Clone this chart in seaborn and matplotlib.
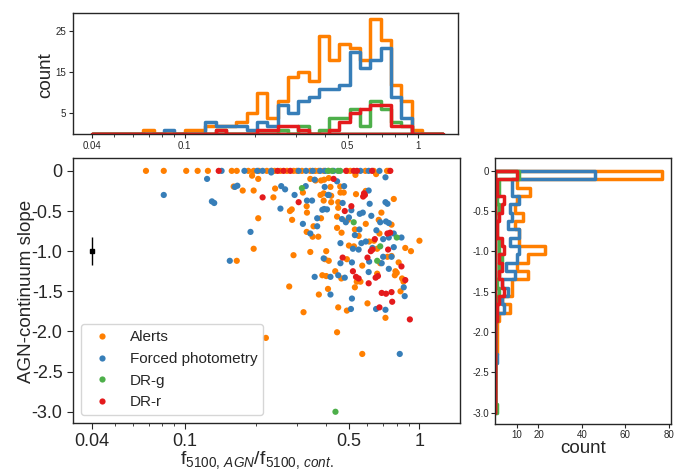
import numpy as np
import pandas as pd
import matplotlib
matplotlib.use("Agg")
import matplotlib.pyplot as plt
import seaborn as sns
from matplotlib.ticker import NullFormatter

# ---------------- data ----------------
series_names = ["Alerts", "Forced photometry", "DR-g", "DR-r"]
series_colors = ["#ff7f00", "#377eb8", "#4daf4a", "#e41a1c"]

# (flux ratio, AGN-continuum slope)
alerts_zero_ratio = [0.068, 0.081, 0.101, 0.113, 0.125, 0.158, 0.166, 0.186, 0.196, 0.206,
                     0.223, 0.234, 0.241, 0.255, 0.272, 0.290, 0.300, 0.315, 0.342, 0.359,
                     0.371, 0.390, 0.410, 0.491, 0.507, 0.588, 0.638, 0.727, 0.739]
alerts_points = [
    (0.193, -0.06), (0.205, -0.10), (0.342, -0.10), (0.360, -0.12), (0.380, -0.12), (0.392, -0.11),
    (0.161, -0.195), (0.176, -0.245), (0.196, -0.245), (0.205, -0.59), (0.242, -0.22), (0.318, -0.27),
    (0.238, -0.33), (0.330, -0.44), (0.331, -0.52), (0.390, -0.28), (0.378, -0.30), (0.390, -0.37),
    (0.280, -0.50), (0.285, -0.48), (0.286, -0.61), (0.380, -0.59), (0.353, -0.69), (0.330, -0.76),
    (0.350, -0.82), (0.370, -0.82),
    (0.533, -0.05), (0.653, -0.04), (0.410, -0.09), (0.459, -0.195), (0.417, -0.20), (0.460, -0.27),
    (0.475, -0.27), (0.420, -0.31), (0.536, -0.29), (0.590, -0.25), (0.777, -0.35), (0.420, -0.39),
    (0.450, -0.39), (0.450, -0.46), (0.445, -0.57), (0.495, -0.61), (0.688, -0.52), (0.670, -0.61),
    (0.760, -0.67), (0.590, -0.66), (0.530, -0.73), (0.445, -0.71), (0.465, -0.77), (0.675, -0.78),
    (0.550, -0.81),
    (0.196, -0.97), (0.166, -1.12), (0.290, -1.05), (0.342, -1.01), (0.400, -1.00), (0.395, -1.10),
    (0.410, -1.12), (0.385, -1.30), (0.400, -1.31), (0.278, -1.44), (0.372, -1.54), (0.407, -1.47),
    (0.320, -1.76),
    (1.000, -0.87), (0.920, -1.00), (0.870, -0.96), (0.500, -0.93), (0.525, -0.94), (0.610, -0.88),
    (0.640, -0.87), (0.660, -0.97), (0.730, -1.07), (0.760, -1.06), (0.680, -1.15), (0.490, -1.10),
    (0.815, -1.14), (0.790, -1.25), (0.800, -1.27), (0.570, -1.18), (0.660, -1.28), (0.785, -1.30),
    (0.843, -1.34), (0.855, -1.38), (0.437, -1.25), (0.464, -1.34), (0.540, -1.38), (0.560, -1.38),
    (0.530, -1.45), (0.600, -1.65), (0.450, -1.70), (0.490, -1.74), (0.716, -1.83), (0.830, -1.50),
    (0.445, -2.01), (0.570, -2.28), (0.221, -2.08),
]

forced_zero_ratio = [0.143, 0.179, 0.203, 0.214, 0.233, 0.305, 0.328, 0.350, 0.377, 0.396,
                     0.430, 0.560, 0.607, 0.675]
forced_points = [
    (0.233, -0.02), (0.357, -0.11), (0.163, -0.20), (0.167, -0.185), (0.257, -0.19), (0.267, -0.23),
    (0.327, -0.19), (0.293, -0.30), (0.331, -0.37), (0.348, -0.37), (0.394, -0.20), (0.407, -0.30),
    (0.385, -0.485), (0.392, -0.475), (0.255, -0.47), (0.318, -0.66), (0.366, -0.59), (0.366, -0.69),
    (0.342, -0.78), (0.190, -0.76),
    (0.716, -0.08), (0.445, -0.13), (0.477, -0.19), (0.410, -0.30), (0.607, -0.245), (0.716, -0.39),
    (0.730, -0.41), (0.613, -0.41), (0.470, -0.40), (0.512, -0.49), (0.403, -0.48), (0.467, -0.60),
    (0.500, -0.58), (0.485, -0.64), (0.556, -0.535), (0.573, -0.52), (0.623, -0.56), (0.720, -0.63),
    (0.740, -0.65), (0.680, -0.64), (0.554, -0.73), (0.655, -0.74), (0.777, -0.78), (0.838, -0.83),
    (0.530, -0.80),
    (0.155, -1.12), (0.390, -1.09), (0.357, -1.32),
    (0.460, -0.90), (0.520, -0.97), (0.550, -0.98), (0.565, -0.90), (0.590, -0.88), (0.700, -0.85),
    (0.740, -0.83), (0.777, -0.95), (0.700, -1.07), (0.630, -0.96), (0.610, -1.13), (0.690, -1.15),
    (0.460, -1.15), (0.515, -1.14), (0.760, -1.07), (0.740, -1.22), (0.607, -1.26), (0.417, -1.32),
    (0.450, -1.30), (0.480, -1.33), (0.417, -1.54), (0.857, -1.45), (0.865, -1.56), (0.515, -1.59),
    (0.510, -1.72), (0.653, -1.72), (0.716, -1.73),
    (0.081, -0.30), (0.124, -0.10), (0.130, -0.38), (0.133, -0.40), (0.824, -2.28),
]

drg_zero_ratio = [0.407, 0.424, 0.449, 0.459]
drg_points = [(0.315, -0.215), (0.524, -0.64), (0.800, -0.83), (0.680, -0.94), (0.660, -1.12),
              (0.438, -3.00)]

drr_zero_ratio = [0.139, 0.248, 0.263, 0.281, 0.486, 0.524, 0.541, 0.628, 0.751]
drr_points = [
    (0.214, -0.33), (0.305, -0.39), (0.430, -0.10), (0.580, -0.28), (0.585, -0.30), (0.575, -0.32),
    (0.512, -0.44), (0.480, -0.50), (0.730, -0.78), (0.750, -0.77), (0.645, -0.85), (0.735, -0.98),
    (0.620, -1.00), (0.630, -0.98), (0.600, -1.08), (0.470, -1.08), (0.838, -1.19), (0.520, -1.25),
    (0.650, -1.33), (0.665, -1.31), (0.870, -1.36), (0.536, -1.32), (0.550, -1.34), (0.607, -1.40),
    (0.690, -1.52), (0.720, -1.53), (0.760, -1.51), (0.765, -1.63), (0.675, -1.70), (0.910, -1.85),
]

# typical uncertainty marker
err_ratio = [0.04]
err_slope = [-1.0]
err_dslope = [0.175]

# top histogram: 34 log-spaced bins from 0.04 to 1.28
ratio_bin_lo, ratio_bin_hi, ratio_nbins = 0.04, 1.28, 34
alerts_ratio_counts = [0, 0, 0, 0, 0, 1, 0, 0, 0, 1, 1, 2, 2, 2, 3, 5, 10, 4, 8, 14, 15, 13,
                       24, 18, 22, 21, 18, 28, 23, 12, 8, 1, 0, 0]
forced_ratio_counts = [0, 0, 0, 0, 0, 0, 0, 1, 0, 0, 0, 3, 2, 2, 2, 1, 3, 2, 7, 5, 8, 9,
                       11, 11, 12, 20, 16, 18, 21, 9, 4, 0, 0, 0]
drg_ratio_counts = [0, 0, 0, 0, 0, 0, 0, 0, 0, 0, 0, 0, 1, 0, 0, 0, 0, 0, 1, 0, 2, 0,
                    1, 4, 4, 6, 2, 8, 6, 3, 2, 0, 0, 0]
drr_ratio_counts = [0, 0, 0, 0, 0, 0, 0, 0, 0, 0, 0, 0, 1, 0, 0, 0, 1, 1, 2, 2, 1, 0,
                    0, 1, 3, 5, 6, 7, 7, 2, 2, 0, 0, 0]

# right histogram: 29 bins from -3.0 to 0, listed from the top bin (0) downwards
slope_bin_lo, slope_bin_hi, slope_nbins = -3.0, 0.0, 29
alerts_slope_counts = [77, 10, 16, 10, 9, 13, 9, 11, 11, 23, 15, 10, 15, 8, 8, 3, 7, 2, 1, 1,
                       1, 1, 0, 0, 0, 0, 0, 0, 0]
forced_slope_counts = [46, 8, 8, 11, 7, 8, 6, 11, 7, 11, 10, 5, 9, 3, 6, 3, 4, 1, 0, 0,
                       0, 0, 1, 0, 0, 0, 0, 0, 0]
drg_slope_counts = [11, 2, 2, 1, 2, 0, 1, 1, 2, 2, 3, 2, 2, 1, 2, 1, 1, 1, 0, 0,
                    0, 0, 0, 0, 0, 0, 0, 0, 1]
drr_slope_counts = [10, 1, 1, 4, 3, 2, 1, 1, 3, 4, 2, 3, 2, 3, 4, 2, 1, 1, 0, 0,
                    0, 0, 0, 0, 0, 0, 0, 0, 0]

x_ticks = [0.04, 0.1, 0.5, 1]
x_ticklabels = ["0.04", "0.1", "0.5", "1"]
y_ticks = [0, -0.5, -1.0, -1.5, -2.0, -2.5, -3.0]
y_ticklabels = ["0", "-0.5", "-1.0", "-1.5", "-2.0", "-2.5", "-3.0"]
top_yticks = [5, 15, 25]
right_xticks = [10, 20, 40, 60, 80]

# ---------------- style ----------------
sns.set_style("ticks")
plt.rcParams["font.family"] = ["Liberation Sans", "DejaVu Sans"]
plt.rcParams["axes.unicode_minus"] = False
plt.rcParams["mathtext.fontset"] = "custom"
plt.rcParams["mathtext.rm"] = "Liberation Sans"
plt.rcParams["mathtext.it"] = "Liberation Sans:italic"
plt.rcParams["axes.edgecolor"] = "#262626"
plt.rcParams["axes.linewidth"] = 1.0

fig = plt.figure(figsize=(6.87, 4.71), dpi=100)
ax_top = fig.add_axes([0.1063, 0.7155, 0.5604, 0.2569])
ax = fig.add_axes([0.1063, 0.1019, 0.5633, 0.5626])
ax_r = fig.add_axes([0.7205, 0.0998, 0.2562, 0.5648])

# ---------------- scatter ----------------
frames = []
for name, zeros, pts in [("Alerts", alerts_zero_ratio, alerts_points),
                         ("Forced photometry", forced_zero_ratio, forced_points),
                         ("DR-g", drg_zero_ratio, drg_points),
                         ("DR-r", drr_zero_ratio, drr_points)]:
    xs = list(zeros) + [p[0] for p in pts]
    ys = [0.0] * len(zeros) + [p[1] for p in pts]
    frames.append(pd.DataFrame({"ratio": xs, "slope": ys, "source": name}))
df = pd.concat(frames, ignore_index=True)

ax.set_xscale("log")
sns.scatterplot(data=df, x="ratio", y="slope", hue="source", hue_order=series_names,
                palette=series_colors, s=20, linewidth=0, ax=ax)
ax.errorbar(err_ratio, err_slope, yerr=err_dslope, fmt="s", color="black",
            markersize=3, elinewidth=1.0, capsize=0)

xlim = (0.0332, 1.49)
ylim = (-3.14, 0.16)
ax.set_xlim(*xlim)
ax.set_ylim(*ylim)
ax.set_xticks(x_ticks)
ax.set_xticklabels(x_ticklabels)
ax.xaxis.set_minor_formatter(NullFormatter())
ax.set_yticks(y_ticks)
ax.set_yticklabels(y_ticklabels)
ax.tick_params(axis="both", which="major", labelsize=13, length=4)
ax.tick_params(axis="both", which="minor", length=2)
ax.set_xlabel(r"f$_{5100,\,AGN}$/f$_{5100,\,cont.}$", fontsize=14)
ax.xaxis.set_label_coords(0.474, -0.097)
ax.set_ylabel("AGN-continuum slope", fontsize=13.5)
ax.yaxis.set_label_coords(-0.099, 0.496)
handles, labels = ax.get_legend_handles_labels()
ax.legend(handles, labels, loc="lower left", fontsize=11, frameon=True,
          framealpha=0.8, edgecolor="0.8", handletextpad=0.8)

# ---------------- top histogram ----------------
r_edges = np.logspace(np.log10(ratio_bin_lo), np.log10(ratio_bin_hi), ratio_nbins + 1)
r_centers = np.sqrt(r_edges[:-1] * r_edges[1:])
for counts, col in zip([alerts_ratio_counts, forced_ratio_counts, drg_ratio_counts,
                        drr_ratio_counts], series_colors):
    sns.histplot(x=r_centers, weights=counts, bins=ratio_nbins,
                 binrange=(np.log10(ratio_bin_lo), np.log10(ratio_bin_hi)),
                 log_scale=True, element="step", fill=True, color=col, facecolor="none",
                 edgecolor=col, linewidth=2.5, ax=ax_top)
ax_top.set_xlim(*xlim)
ax_top.set_ylim(0, 29.5)
ax_top.set_xticks(x_ticks)
ax_top.set_xticklabels(x_ticklabels)
ax_top.xaxis.set_minor_formatter(NullFormatter())
ax_top.set_yticks(top_yticks)
ax_top.tick_params(axis="both", which="major", labelsize=7, length=3, pad=2)
ax_top.tick_params(axis="both", which="minor", length=1.8)
ax_top.set_xlabel("")
ax_top.set_ylabel("count", fontsize=13.5)
ax_top.yaxis.set_label_coords(-0.05, 0.49)

# ---------------- right histogram ----------------
s_edges = np.linspace(slope_bin_hi, slope_bin_lo, slope_nbins + 1)
s_centers = (s_edges[:-1] + s_edges[1:]) / 2
for counts, col in zip([alerts_slope_counts, forced_slope_counts, drg_slope_counts,
                        drr_slope_counts], series_colors):
    sns.histplot(y=s_centers, weights=counts, bins=slope_nbins,
                 binrange=(slope_bin_lo, slope_bin_hi), element="step", fill=True,
                 color=col, facecolor="none", edgecolor=col, linewidth=2.5, ax=ax_r)
ax_r.set_ylim(*ylim)
ax_r.set_xlim(0, 81)
ax_r.set_yticks(y_ticks)
ax_r.set_yticklabels(y_ticklabels)
ax_r.set_xticks(right_xticks)
ax_r.tick_params(axis="both", which="major", labelsize=7, length=3, pad=1.5)
ax_r.set_ylabel("")
ax_r.set_xlabel("count", fontsize=13.5)
ax_r.xaxis.set_label_coords(0.5, -0.062)

fig.savefig("out.png", dpi=100)
